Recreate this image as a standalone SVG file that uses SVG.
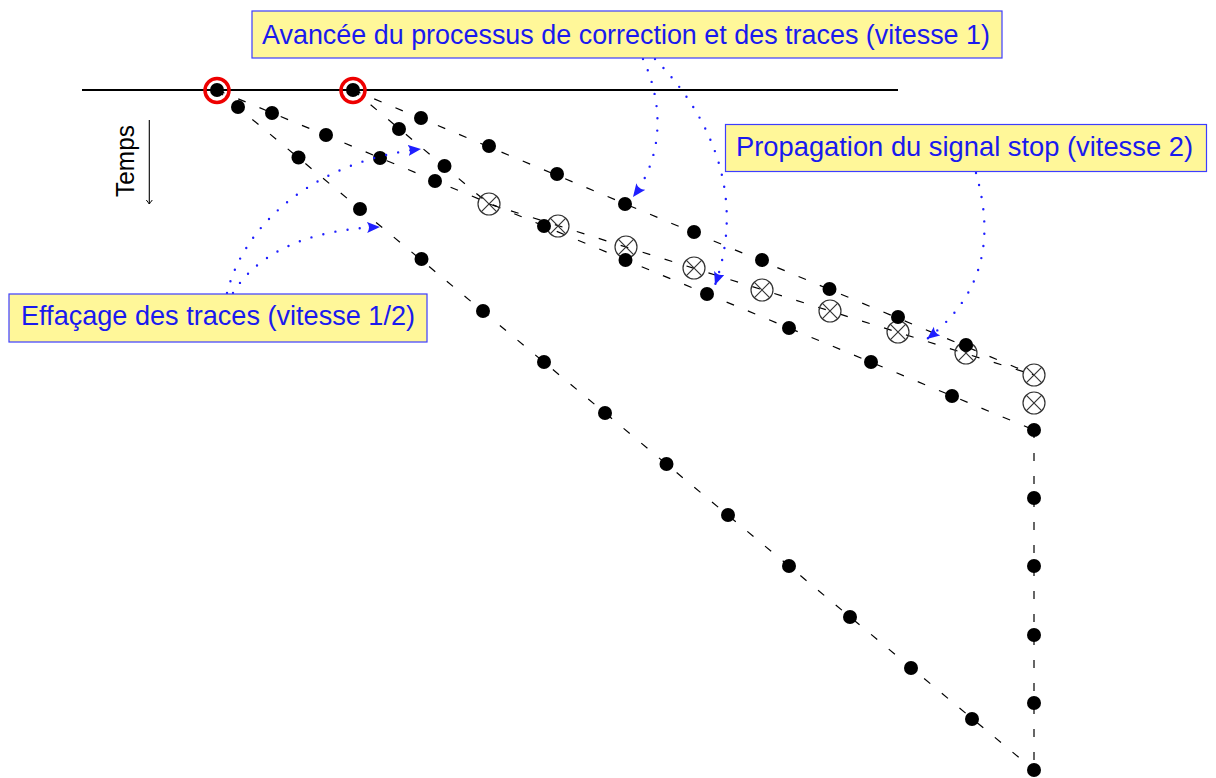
<svg xmlns="http://www.w3.org/2000/svg" xmlns:xlink="http://www.w3.org/1999/xlink" width="1216" height="778" viewBox="0 0 1216 778">
<style>
.dl{fill:none;stroke:#000;stroke-width:1.2;stroke-dasharray:8 15}
.dot{fill:#000}
.cx{fill:none;stroke:#333;stroke-width:1.2}
.red{fill:none;stroke:#ee0000;stroke-width:3.5}
.blue{fill:none;stroke:#1f1fff;stroke-width:2.4;stroke-linecap:round;stroke-dasharray:0 12.3}
.box{fill:#fff799;stroke:#3d3dff;stroke-width:1.2}
.lbl{font-family:"Liberation Sans",Arial,sans-serif;font-size:27.5px;fill:#1a1aee}
.tm{font-family:"Liberation Sans",Arial,sans-serif;font-size:25px;fill:#000}
</style>
<defs>
<marker id="ab" markerUnits="userSpaceOnUse" markerWidth="14" markerHeight="12" refX="13" refY="5.5" orient="auto">
<path d="M0,0 Q4,5.5 0,11 L13,5.5 z" fill="#1f1fff"/>
</marker>
<marker id="ak" markerUnits="userSpaceOnUse" markerWidth="10" markerHeight="10" refX="5" refY="5" orient="auto">
<path d="M1,2 Q3.5,4 5,5 Q3.5,6 1,8" fill="none" stroke="#000" stroke-width="1"/>
</marker>
<g id="cross">
<circle r="11" class="cx"/>
<path d="M-7.8,-7.8 L7.8,7.8 M-7.8,7.8 L7.8,-7.8" stroke="#333" stroke-width="1.2"/>
</g>
</defs>
<rect width="1216" height="778" fill="#fff"/>

<g id="axis">
<line x1="82" y1="90" x2="898" y2="90" stroke="#000" stroke-width="2"/>
<line x1="149.3" y1="120" x2="149.3" y2="204" stroke="#000" stroke-width="1.1" marker-end="url(#ak)"/>
<text class="tm" transform="translate(134,161) rotate(-90)" text-anchor="middle" textLength="72" lengthAdjust="spacingAndGlyphs">Temps</text>
</g>

<g id="connectors">
<path class="dl" d="M217,90 L1034,770"/>
<path class="dl" d="M217,90 L1034,430"/>
<path class="dl" d="M353,90 L1034,375"/>
<path class="dl" d="M353,90 L489,204"/>
<path class="dl" d="M489,204 L1034,375"/>
<path class="dl" d="M1034,430 L1034,770"/>
</g>

<g id="stops">
<use xlink:href="#cross" x="489" y="204"/>
<use xlink:href="#cross" x="558" y="226"/>
<use xlink:href="#cross" x="626" y="247"/>
<use xlink:href="#cross" x="694" y="268"/>
<use xlink:href="#cross" x="762" y="290"/>
<use xlink:href="#cross" x="830" y="311"/>
<use xlink:href="#cross" x="898" y="332"/>
<use xlink:href="#cross" x="966" y="353"/>
<use xlink:href="#cross" x="1034" y="375"/>
<use xlink:href="#cross" x="1034" y="403"/>
</g>

<g id="dots-a">
<circle class="dot" r="7" cx="238" cy="107"/>
<circle class="dot" r="7" cx="298.5" cy="157.5"/>
<circle class="dot" r="7" cx="360" cy="209"/>
<circle class="dot" r="7" cx="421.5" cy="259"/>
<circle class="dot" r="7" cx="483" cy="311"/>
<circle class="dot" r="7" cx="544" cy="362"/>
<circle class="dot" r="7" cx="605" cy="413"/>
<circle class="dot" r="7" cx="666.5" cy="464"/>
<circle class="dot" r="7" cx="728" cy="515"/>
<circle class="dot" r="7" cx="789" cy="566"/>
<circle class="dot" r="7" cx="850" cy="617"/>
<circle class="dot" r="7" cx="911" cy="668"/>
<circle class="dot" r="7" cx="972" cy="719"/>
<circle class="dot" r="7" cx="1034" cy="770"/>
</g>
<g id="dots-b">
<circle class="dot" r="7" cx="272" cy="113"/>
<circle class="dot" r="7" cx="326" cy="135"/>
<circle class="dot" r="7" cx="380" cy="158"/>
<circle class="dot" r="7" cx="435" cy="181"/>
<circle class="dot" r="7" cx="544" cy="226"/>
<circle class="dot" r="7" cx="625.5" cy="260"/>
<circle class="dot" r="7" cx="707" cy="294"/>
<circle class="dot" r="7" cx="789" cy="328"/>
<circle class="dot" r="7" cx="871" cy="362"/>
<circle class="dot" r="7" cx="952" cy="396"/>
<circle class="dot" r="7" cx="1034" cy="430"/>
</g>
<g id="dots-c">
<circle class="dot" r="7" cx="421" cy="118"/>
<circle class="dot" r="7" cx="489" cy="146"/>
<circle class="dot" r="7" cx="557" cy="174"/>
<circle class="dot" r="7" cx="625" cy="204"/>
<circle class="dot" r="7" cx="694" cy="232"/>
<circle class="dot" r="7" cx="762" cy="260"/>
<circle class="dot" r="7" cx="829.5" cy="289"/>
<circle class="dot" r="7" cx="898" cy="317"/>
<circle class="dot" r="7" cx="966" cy="345"/>
</g>
<g id="dots-d">
<circle class="dot" r="7" cx="399" cy="129"/>
<circle class="dot" r="7" cx="444.5" cy="166"/>
</g>
<g id="dots-f">
<circle class="dot" r="7" cx="1034" cy="498"/>
<circle class="dot" r="7" cx="1034" cy="566"/>
<circle class="dot" r="7" cx="1034" cy="635"/>
<circle class="dot" r="7" cx="1034" cy="703"/>
</g>

<g id="origin-1">
<circle class="dot" r="7" cx="217" cy="90"/>
<circle class="red" r="12" cx="217" cy="90.5"/>
</g>
<g id="origin-2">
<circle class="dot" r="7" cx="353" cy="90"/>
<circle class="red" r="12" cx="353" cy="90.5"/>
</g>

<g id="annotation-arrows">
<path class="blue" d="M643,59 C660,95 668,150 633,197" marker-end="url(#ab)"/>
<path class="blue" d="M655,59 C715,120 745,200 715,285" marker-end="url(#ab)"/>
<path class="blue" d="M976,173 C992,230 990,290 927,339" marker-end="url(#ab)"/>
<path class="blue" d="M227,293 C245,220 320,160 421,149" marker-end="url(#ab)"/>
<path class="blue" d="M233,293 C250,265 290,230 380,227" marker-end="url(#ab)"/>
</g>

<g id="label-avancee">
<rect class="box" x="252" y="11" width="750" height="47"/>
<text class="lbl" x="262" y="43.5" textLength="728" lengthAdjust="spacingAndGlyphs">Avancée du processus de correction et des traces (vitesse 1)</text>
</g>
<g id="label-propagation">
<rect class="box" x="725.5" y="124.5" width="481" height="47"/>
<text class="lbl" x="736" y="156" textLength="457" lengthAdjust="spacingAndGlyphs">Propagation du signal stop (vitesse 2)</text>
</g>
<g id="label-effacage">
<rect class="box" x="9" y="294" width="418" height="48"/>
<text class="lbl" x="21" y="325" textLength="394" lengthAdjust="spacingAndGlyphs">Effaçage des traces (vitesse 1/2)</text>
</g>
</svg>
